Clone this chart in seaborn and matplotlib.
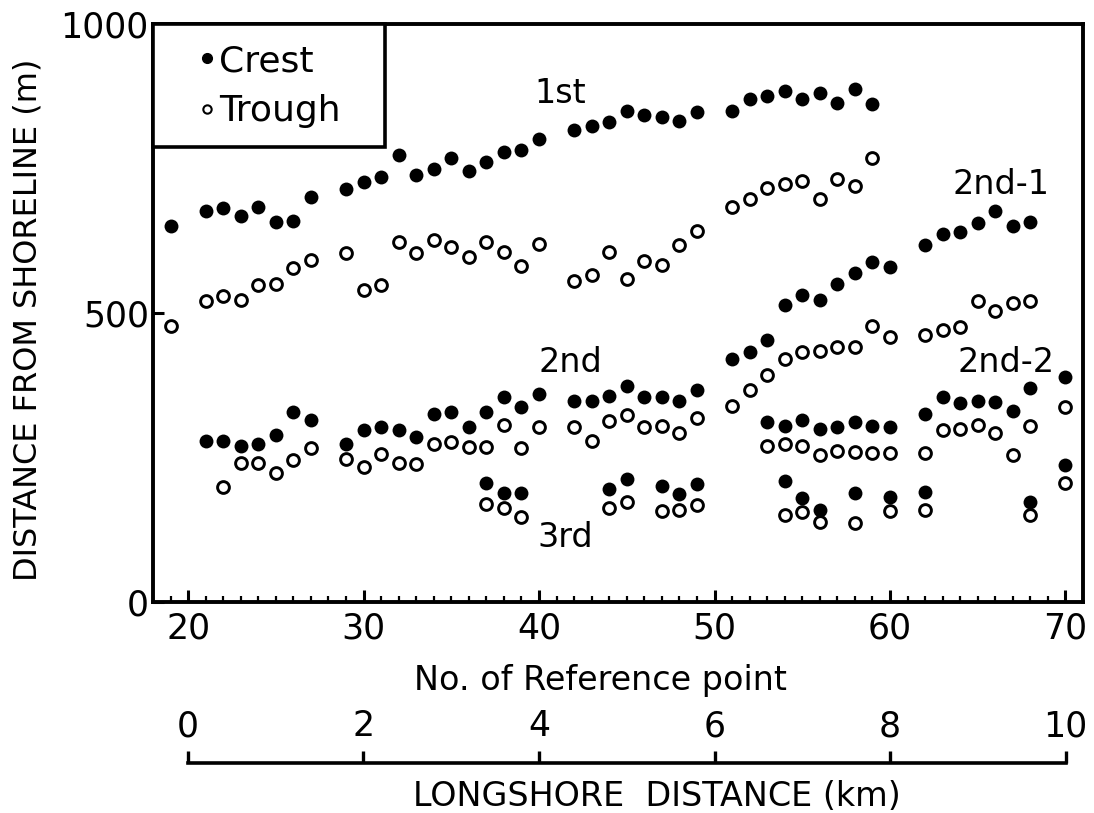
import matplotlib
matplotlib.use("Agg")
import matplotlib.pyplot as plt
import seaborn as sns
import pandas as pd
from matplotlib.lines import Line2D
from matplotlib.patches import Rectangle
from matplotlib.ticker import MultipleLocator, FixedLocator

# ---------------- data ----------------
x_1st = [19, 21, 22, 23, 24, 25, 26, 27, 29, 30, 31, 32, 33, 34, 35, 36, 37, 38, 39, 40,
         42, 43, 44, 45, 46, 47, 48, 49, 51, 52, 53, 54, 55, 56, 57, 58, 59]
crest_1st = [650, 677, 681, 667, 684, 658, 660, 700, 714, 726, 735, 773, 738, 750, 768, 745,
             761, 778, 782, 801, 816, 823, 830, 849, 842, 839, 832, 847, 849, 870, 875, 884,
             871, 880, 863, 887, 862]
trough_1st = [478, 520, 530, 522, 549, 550, 578, 591, 604, 540, 548, 623, 604, 627, 615, 597,
              622, 606, 581, 620, 555, 566, 606, 558, 590, 583, 617, 642, 683, 698, 717, 723,
              728, 697, 731, 720, 768]

x_2nd_crest = [21, 22, 23, 24, 25, 26, 27, 29, 30, 31, 32, 33, 34, 35, 36, 37, 38, 39, 40,
               42, 43, 44, 45, 46, 47, 48, 49]
crest_2nd = [279, 279, 270, 274, 289, 329, 315, 274, 298, 302, 298, 285, 326, 328, 302, 329,
             354, 337, 360, 347, 348, 357, 374, 355, 354, 348, 366]
x_2nd_trough = [22, 23, 24, 25, 26, 27, 29, 30, 31, 32, 33, 34, 35, 36, 37, 38, 39, 40,
                42, 43, 44, 45, 46, 47, 48, 49]
trough_2nd = [199, 240, 241, 224, 245, 266, 247, 234, 256, 240, 238, 273, 276, 269, 269, 306,
              267, 302, 303, 279, 314, 324, 302, 305, 293, 318]

x_2nd1 = [51, 52, 53, 54, 55, 56, 57, 58, 59, 60, 62, 63, 64, 65, 66, 67, 68]
crest_2nd1 = [420, 432, 454, 514, 531, 523, 551, 570, 588, 579, 617, 637, 640, 656, 676, 651, 658]
trough_2nd1 = [339, 367, 393, 420, 432, 435, 442, 441, 478, 458, 462, 470, 476, 521, 504, 517, 521]

x_2nd2 = [53, 54, 55, 56, 57, 58, 59, 60, 62, 63, 64, 65, 66, 67, 68, 70]
crest_2nd2 = [312, 304, 315, 300, 303, 312, 304, 303, 325, 355, 345, 348, 346, 331, 370, 389]
trough_2nd2 = [270, 273, 270, 255, 261, 260, 258, 258, 258, 298, 300, 306, 292, 254, 305, 337]

x_3rd = [37, 38, 39, 44, 45, 47, 48, 49, 54, 55, 56, 58, 60, 62, 68, 70]
crest_3rd = [206, 188, 189, 196, 212, 201, 187, 205, 209, 180, 160, 189, 181, 191, 173, 237]
trough_3rd = [169, 162, 147, 162, 173, 158, 159, 167, 150, 155, 139, 136, 158, 159, 150, 206]

x_ticks = [20, 30, 40, 50, 60, 70]
y_ticks = [0, 500, 1000]
km_ticks = [0, 2, 4, 6, 8, 10]

bar_labels = ["1st", "2nd", "3rd", "2nd-1", "2nd-2"]
bar_label_x = [41.2, 41.8, 41.5, 66.3, 66.6]
bar_label_y = [880, 415, 112, 722, 415]

# ---------------- build tables ----------------
crest_df = pd.concat([
    pd.DataFrame({"ref": x_1st, "dist": crest_1st}),
    pd.DataFrame({"ref": x_2nd_crest, "dist": crest_2nd}),
    pd.DataFrame({"ref": x_2nd1, "dist": crest_2nd1}),
    pd.DataFrame({"ref": x_2nd2, "dist": crest_2nd2}),
    pd.DataFrame({"ref": x_3rd, "dist": crest_3rd}),
], ignore_index=True)
trough_df = pd.concat([
    pd.DataFrame({"ref": x_1st, "dist": trough_1st}),
    pd.DataFrame({"ref": x_2nd_trough, "dist": trough_2nd}),
    pd.DataFrame({"ref": x_2nd1, "dist": trough_2nd1}),
    pd.DataFrame({"ref": x_2nd2, "dist": trough_2nd2}),
    pd.DataFrame({"ref": x_3rd, "dist": trough_3rd}),
], ignore_index=True)

# ---------------- style ----------------
sns.set_style("ticks", rc={
    "text.color": "black", "axes.labelcolor": "black", "axes.edgecolor": "black",
    "xtick.color": "black", "ytick.color": "black",
    "xtick.bottom": True, "ytick.left": True,
})
plt.rcParams["font.family"] = ["DejaVu Sans"]
FS_TICK = 25
FS_LAB = 24
FS_BAR = 24
FS_LEG = 26

W, H = 1094, 813
fig = plt.figure(figsize=(W / 100, H / 100), dpi=100)
ax_l, ax_r, ax_t, ax_b = 153, 1083, 24, 602
ax = fig.add_axes([ax_l / W, 1 - ax_b / H, (ax_r - ax_l) / W, (ax_b - ax_t) / H])

sns.scatterplot(data=crest_df, x="ref", y="dist", ax=ax, color="black", marker="o",
                s=100, linewidth=0, legend=False, zorder=3)
sns.scatterplot(data=trough_df, x="ref", y="dist", ax=ax, color="black", marker="o",
                facecolor="white", edgecolor="black", s=72, linewidth=2.1,
                legend=False, zorder=3)

ax.set_xlim(18, 71)
ax.set_ylim(0, 1000)
for sp in ax.spines.values():
    sp.set_linewidth(2.8)
    sp.set_color("black")

ax.xaxis.set_major_locator(FixedLocator(x_ticks))
ax.xaxis.set_minor_locator(MultipleLocator(1))
ax.yaxis.set_major_locator(FixedLocator(y_ticks))
ax.tick_params(axis="x", which="major", direction="in", length=9, width=2.2,
               labelsize=FS_TICK, pad=7, bottom=True, top=False, colors="black")
ax.tick_params(axis="x", which="minor", direction="in", length=4, width=1.6,
               bottom=True, top=False, colors="black")
ax.tick_params(axis="y", which="major", direction="in", length=8, width=2.2,
               labelsize=FS_TICK, pad=3, left=True, right=False, colors="black")

ax.set_xlabel("No. of Reference point", fontsize=FS_LAB)
ax.xaxis.set_label_coords(600 / W, 1 - 664 / H, transform=fig.transFigure)
ax.set_ylabel("DISTANCE FROM SHORELINE (m)", fontsize=FS_LAB - 1)
ax.yaxis.set_label_coords(44 / W, 1 - 320 / H, transform=fig.transFigure)

for lab, lx, ly in zip(bar_labels, bar_label_x, bar_label_y):
    ax.text(lx, ly, lab, fontsize=FS_BAR, ha="center", va="center", zorder=4)

# legend: framed box in the upper-left corner
box_w = (385 - ax_l) / (ax_r - ax_l)
box_h = (147 - ax_t) / (ax_b - ax_t)
ax.add_patch(Rectangle((0, 1 - box_h), box_w, box_h, transform=ax.transAxes,
                       facecolor="white", edgecolor="black", linewidth=2.6,
                       zorder=5, clip_on=False))
handles = [
    Line2D([], [], marker="o", linestyle="none", markerfacecolor="black",
           markeredgecolor="black", markersize=7),
    Line2D([], [], marker="o", linestyle="none", markerfacecolor="white",
           markeredgecolor="black", markeredgewidth=1.5, markersize=6),
]
leg = ax.legend(handles, ["Crest", "Trough"], loc="upper left",
                bbox_to_anchor=((200 - ax_l) / (ax_r - ax_l), (ax_b - 44) / (ax_b - ax_t)),
                borderaxespad=0, borderpad=0, frameon=False, fontsize=FS_LEG,
                handlelength=0.4, handletextpad=0.12, labelspacing=0.45)
leg.set_zorder(6)

# ---------------- longshore distance scale ----------------
x20_px, x70_px = 187.7, 1065.7
line_y = 763
ax2 = fig.add_axes([x20_px / W, 1 - line_y / H, (x70_px - x20_px) / W, 0.0001])
ax2.set_xlim(0, 10)
ax2.set_yticks([])
for name, sp in ax2.spines.items():
    sp.set_visible(name == "bottom")
ax2.spines["bottom"].set_linewidth(2.6)
ax2.spines["bottom"].set_color("black")
ax2.set_facecolor("none")
ax2.xaxis.set_major_locator(FixedLocator(km_ticks))
ax2.tick_params(axis="x", direction="in", length=9, width=2.4, bottom=True, top=False,
                labelbottom=False, labeltop=True, labelsize=FS_TICK, pad=14,
                colors="black")
ax2.set_xlabel("LONGSHORE  DISTANCE (km)", fontsize=FS_LAB)
ax2.xaxis.set_label_coords(657 / W, 1 - 780 / H, transform=fig.transFigure)
ax2.xaxis.label.set_va("top")

fig.savefig("out.png", dpi=100)
